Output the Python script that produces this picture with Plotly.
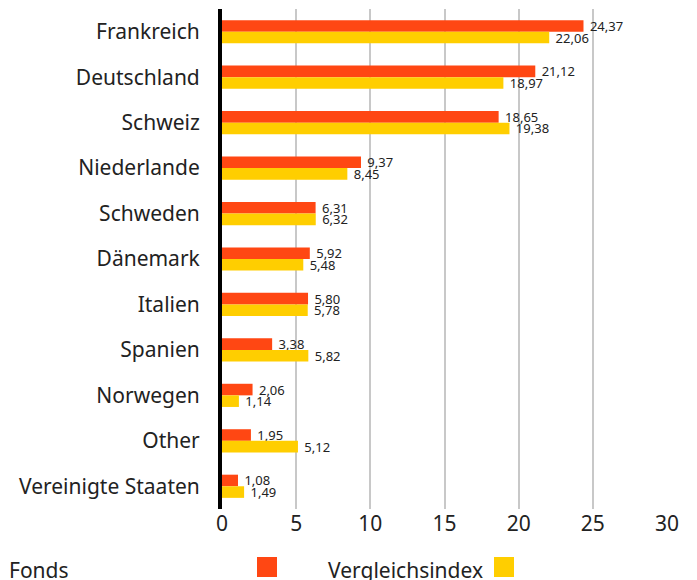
import plotly.graph_objects as go

countries = ["Frankreich", "Deutschland", "Schweiz", "Niederlande", "Schweden",
             "Dänemark", "Italien", "Spanien", "Norwegen", "Other", "Vereinigte Staaten"]
fonds = [24.37, 21.12, 18.65, 9.37, 6.31, 5.92, 5.80, 3.38, 2.06, 1.95, 1.08]
index_vals = [22.06, 18.97, 19.38, 8.45, 6.32, 5.48, 5.78, 5.82, 1.14, 5.12, 1.49]
x_ticks = [0, 5, 10, 15, 20, 25, 30]

ORANGE = "#FF4713"
YELLOW = "#FFCE00"
FONT = "Noto Sans"

fig = go.Figure()
fig.add_trace(go.Bar(y=countries, x=fonds, orientation="h", name="Fonds",
                     marker=dict(color=ORANGE, line=dict(width=0)),
                     texttemplate=" %{x:.2f}", textposition="outside", cliponaxis=False,
                     constraintext="none",
                     textfont=dict(size=13, color="#222", family=FONT)))
fig.add_trace(go.Bar(y=countries, x=index_vals, orientation="h", name="Vergleichsindex",
                     marker=dict(color=YELLOW, line=dict(width=0)),
                     texttemplate=" %{x:.2f}", textposition="outside", cliponaxis=False,
                     constraintext="none",
                     textfont=dict(size=13, color="#222", family=FONT)))

fig.update_layout(
    width=697, height=580,
    margin=dict(l=222, r=30, t=9, b=71, autoexpand=False),
    barmode="group", bargap=0.49, bargroupgap=0,
    separators=",.",
    plot_bgcolor="white", paper_bgcolor="white",
    showlegend=False,
    font=dict(family=FONT, color="#222"),
    xaxis=dict(range=[0, 30], tickvals=x_ticks, showgrid=True, gridcolor="#c8c8c8",
               gridwidth=2, zeroline=False, showline=False, automargin=False,
               tickfont=dict(size=21, color="#222"), ticklabelstandoff=0),
    yaxis=dict(categoryorder="array", categoryarray=countries, autorange="reversed",
               showgrid=False, zeroline=False, showline=True, linecolor="black",
               linewidth=4, automargin=False,
               tickfont=dict(size=21, color="#222"), ticklabelstandoff=14),
)

# Legend drawn with text followed by square swatch
legend_items = [("Fonds", ORANGE, 7, 257), ("Vergleichsindex", YELLOW, 326, 494)]
for label, color, tx, sx in legend_items:
    fig.add_annotation(text=label, xref="paper", yref="paper", showarrow=False,
                       x=(tx - 222) / 445, y=(509 - 570) / 500, xanchor="left", yanchor="middle",
                       font=dict(size=21, color="#222", family=FONT))
    fig.add_shape(type="rect", xref="paper", yref="paper",
                  x0=(sx - 222) / 445, x1=(sx + 20 - 222) / 445,
                  y0=(509 - 577) / 500, y1=(509 - 557) / 500,
                  fillcolor=color, line=dict(width=0))

fig.write_html("out.html", config={"displayModeBar": False},
               post_script="document.body.style.margin='0';")
